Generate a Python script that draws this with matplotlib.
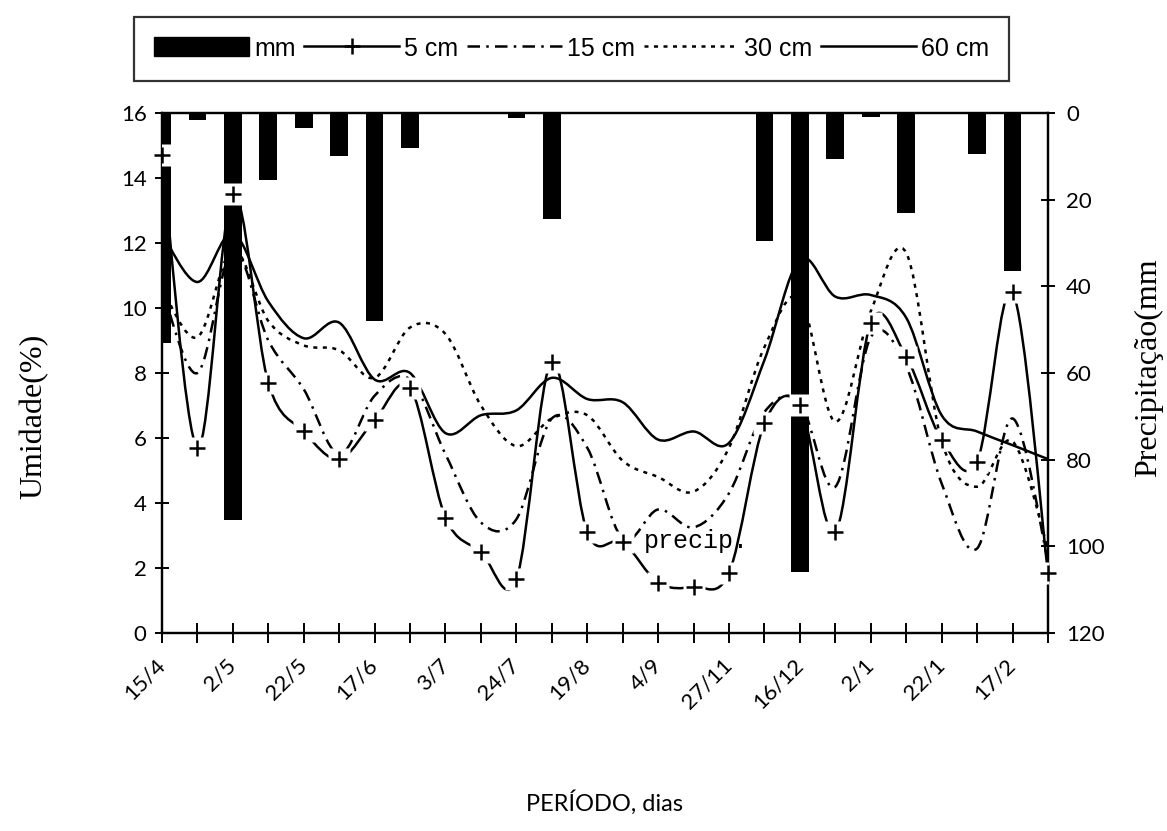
import matplotlib
matplotlib.use("Agg")
import matplotlib.pyplot as plt
from matplotlib.path import Path
from matplotlib.patches import PathPatch, Rectangle
from matplotlib.lines import Line2D
import matplotlib.transforms as mtransforms

# ---------------- data ----------------
positions = list(range(26))
date_labels = ['15/4', '2/5', '22/5', '17/6', '3/7', '24/7', '19/8', '4/9',
               '27/11', '16/12', '2/1', '22/1', '17/2']
precip_mm = [53, 1.5, 94, 15.5, 3.5, 10, 48, 8, 0, 0, 1.2, 24.5, 0, 0, 0, 0,
             0, 29.5, 106, 10.5, 1, 23, 0, 9.5, 36.5, 0]
um_5cm = [14.7, 5.7, 13.5, 7.7, 6.2, 5.35, 6.55, 7.55, 3.55, 2.5, 1.65, 8.35,
          3.1, 2.8, 1.55, 1.42, 1.85, 6.45, 7.0, 3.1, 9.55, 8.5, 5.95, 5.27,
          10.5, 1.85]
um_15cm = [10.6, 8.0, 11.8, 9.0, 7.5, 5.5, 7.3, 7.8, 5.5, 3.4, 3.5, 6.6, 5.7,
           2.9, 3.8, 3.25, 4.3, 6.8, 7.1, 4.5, 9.1, 8.2, 4.6, 2.6, 6.6, 2.2]
um_30cm = [10.6, 9.1, 11.8, 9.6, 8.85, 8.7, 7.85, 9.4, 9.2, 7.0, 5.75, 6.6,
           6.7, 5.3, 4.8, 4.35, 5.7, 8.8, 10.3, 6.5, 9.9, 11.7, 5.9, 4.5, 5.9,
           2.6]
um_60cm = [12.3, 10.8, 12.3, 10.2, 9.07, 9.55, 7.8, 8.0, 6.15, 6.7, 6.85, 7.85,
           7.2, 7.1, 5.95, 6.2, 5.85, 8.4, 11.5, 10.35, 10.4, 9.7, 6.7, 6.2,
           5.78, 5.35]

TICK_FONT = ['Lato', 'DejaVu Sans']
SERIF = ['Liberation Serif', 'DejaVu Serif']


def smooth_path(xs, ys):
    """Bezier (Excel-like smoothed line) through the data points."""
    n = len(xs)
    verts = [(xs[0], ys[0])]
    codes = [Path.MOVETO]
    for i in range(n - 1):
        a = i - 1 if i > 0 else i
        d = i + 2 if i + 2 < n else i + 1
        c1 = (xs[i] + (xs[i + 1] - xs[a]) / 6.0, ys[i] + (ys[i + 1] - ys[a]) / 6.0)
        c2 = (xs[i + 1] - (xs[d] - xs[i]) / 6.0, ys[i + 1] - (ys[d] - ys[i]) / 6.0)
        verts += [c1, c2, (xs[i + 1], ys[i + 1])]
        codes += [Path.CURVE4] * 3
    return Path(verts, codes)


fig = plt.figure(figsize=(11.67, 8.31), dpi=100)
ax = fig.add_axes([0.1388, 0.2383, 0.7592, 0.6257])
ax2 = ax.twinx()
ax.set_zorder(ax2.get_zorder() + 1)
ax.patch.set_visible(False)

# precipitation bars (right axis, inverted)
ax2.bar(positions, precip_mm, width=0.5, color='black', zorder=1)
ax2.set_ylim(120, 0)
ax2.set_yticks(range(0, 121, 20))

# soil moisture lines
lw = 1.8
styles = {
    '5 cm': '-',
    '15 cm': (0, (5, 2.5, 1, 2.5)),
    '30 cm': (0, (1.6, 2.2)),
    '60 cm': '-',
}
series = [('5 cm', um_5cm), ('15 cm', um_15cm), ('30 cm', um_30cm), ('60 cm', um_60cm)]
for name, vals in series:
    p = smooth_path(positions, vals)
    ax.add_patch(PathPatch(p, fill=False, edgecolor='black', lw=lw,
                           linestyle=styles[name], zorder=3, capstyle='butt'))

# white background boxes behind the + markers, then markers
ax.plot(positions, um_5cm, ls='none', marker='s', ms=16, mfc='white',
        mec='none', zorder=4)
ax.plot(positions, um_5cm, ls='none', marker='+', ms=12, mew=1.8,
        color='black', zorder=5, clip_on=False)

ax.text(13.6, 2.83, 'precip.', family=['Liberation Mono', 'DejaVu Sans Mono'],
        fontsize=18, ha='left', va='center', zorder=6)

ax.set_xlim(0, 25)
ax.set_ylim(0, 16)
ax.set_yticks(range(0, 17, 2))
ax.set_xticks(positions)
xl = []
for i in positions:
    xl.append(date_labels[i // 2] if i % 2 == 0 and i // 2 < len(date_labels) else '')
ax.set_xticklabels(xl, rotation=45, ha='right', va='center',
                   rotation_mode='anchor', family=TICK_FONT, fontsize=16)
offset = mtransforms.ScaledTranslation(-8 / 100.0, 0, fig.dpi_scale_trans)
for lab in ax.get_xticklabels():
    lab.set_transform(lab.get_transform() + offset)

for a in (ax, ax2):
    for s in a.spines.values():
        s.set_linewidth(1.6)
ax.tick_params(axis='x', direction='inout', length=14, width=1.4, pad=14)
ax.tick_params(axis='y', direction='inout', length=10, width=1.4, pad=6,
               labelsize=16)
ax2.tick_params(axis='y', direction='inout', length=10, width=1.4, pad=8,
                labelsize=16)
for lab in ax.get_yticklabels() + ax2.get_yticklabels():
    lab.set_family(TICK_FONT)

ax.set_ylabel('Umidade(%)', family=SERIF, fontsize=23)
ax.yaxis.set_label_coords(-0.128, 0.417)
ax2.set_ylabel('Precipitação(mm', family=SERIF, fontsize=23, rotation=90)
ax2.yaxis.set_label_coords(1.097, 0.51)
ax.set_xlabel('PERÍODO, dias', family=TICK_FONT, fontsize=17)
ax.xaxis.set_label_coords(0.5, -0.302)

# legend
handles = [
    Rectangle((0, 0), 1, 1, facecolor='black', edgecolor='black'),
    Line2D([], [], color='black', lw=lw, marker='+', ms=12, mew=1.8),
    Line2D([], [], color='black', lw=lw, ls=styles['15 cm']),
    Line2D([], [], color='black', lw=lw, ls=styles['30 cm']),
    Line2D([], [], color='black', lw=lw, ls='-'),
]
labels = ['mm', '5 cm', '15 cm', '30 cm', '60 cm']
leg = fig.legend(handles, labels, loc='center', bbox_to_anchor=(0.4897, 0.9416),
                 ncol=5, frameon=True, fancybox=False, edgecolor='black',
                 handlelength=3.8, handleheight=0.8, handletextpad=0.2,
                 columnspacing=0.35, borderpad=0.8, borderaxespad=0,
                 prop={'family': ['Liberation Sans', 'DejaVu Sans'], 'size': 18})
leg.get_frame().set_linewidth(1.6)

fig.savefig('out.png', dpi=100)
